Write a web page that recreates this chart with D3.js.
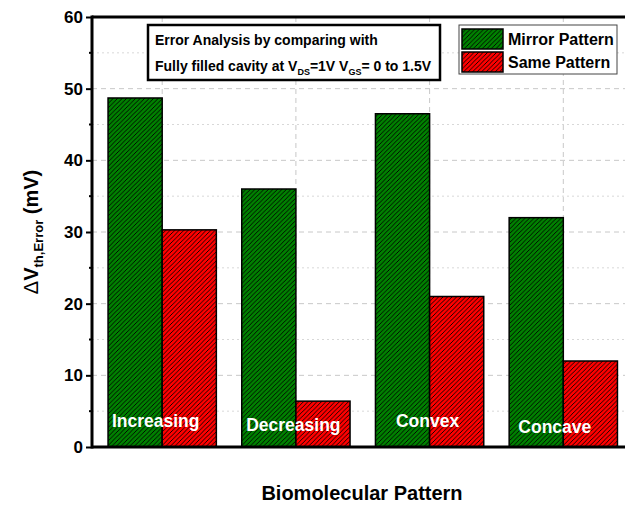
<!DOCTYPE html>
<html>
<head>
<meta charset="utf-8">
<script src="https://cdn.jsdelivr.net/npm/d3@7"></script>
<style>
  html, body { margin: 0; padding: 0; background: #fff; }
  svg { display: block; font-family: Arial, "Liberation Sans", sans-serif; }
</style>
</head>
<body>
<svg id="chart" width="625" height="505"></svg>
<script>
// Threshold-voltage error per biomolecular pattern (mV)
const categories = ["Increasing", "Decreasing", "Convex", "Concave"];
const seriesNames = ["Mirror Pattern", "Same Pattern"];
const mirrorValues = [48.7, 36.0, 46.5, 32.0];
const sameValues = [30.3, 6.4, 21.0, 12.0];
const yTicks = [0, 10, 20, 30, 40, 50, 60];
const yMinorTicks = [5, 15, 25, 35, 45, 55];
const seriesColors = ["#008000", "#ff0000"];
// small per-label nudges for the in-bar category names
const labelDx = [-6.5, -2.5, -2, -8.5];
const labelDy = [0, 4, 0, 6];

const svg = d3.select("#chart");
const margin = { left: 92, right: 633.5, top: 17, bottom: 447 };

const x = d3.scaleBand()
  .domain(categories)
  .range([margin.left, margin.right])
  .paddingInner(0.19)
  .paddingOuter(0.12);
const xSub = d3.scaleBand().domain(seriesNames).range([0, x.bandwidth()]);
const y = d3.scaleLinear().domain([0, 60]).range([margin.bottom, margin.top]);

// Hatch patterns for the bar fills
const defs = svg.append("defs");
seriesColors.forEach((c, i) => {
  const s = 4.5;
  const p = defs.append("pattern")
    .attr("id", "hatch" + i)
    .attr("patternUnits", "userSpaceOnUse")
    .attr("width", s).attr("height", s);
  p.append("rect").attr("width", s).attr("height", s).attr("fill", c);
  p.append("path")
    .attr("d", `M-1,1 l2,-2 M0,${s} l${s},-${s} M${s - 1},${s + 1} l2,-2`)
    .attr("stroke", "#000").attr("stroke-width", 0.9);
});

// Grid lines
const grid = svg.append("g");
grid.selectAll("line.maj").data(yTicks.filter(t => t > 0 && t < 60)).enter().append("line")
  .attr("x1", margin.left).attr("x2", margin.right)
  .attr("y1", d => y(d)).attr("y2", d => y(d))
  .attr("stroke", "#c8c8c8").attr("stroke-width", 1).attr("stroke-dasharray", "5,4");
grid.selectAll("line.min").data(yMinorTicks).enter().append("line")
  .attr("x1", margin.left).attr("x2", margin.right)
  .attr("y1", d => y(d)).attr("y2", d => y(d))
  .attr("stroke", "#d8d8d8").attr("stroke-width", 1).attr("stroke-dasharray", "2,3");
grid.selectAll("line.v").data(categories).enter().append("line")
  .attr("x1", d => x(d) + x.bandwidth() / 2).attr("x2", d => x(d) + x.bandwidth() / 2)
  .attr("y1", margin.top).attr("y2", margin.bottom)
  .attr("stroke", "#c8c8c8").attr("stroke-width", 1).attr("stroke-dasharray", "5,4");

// Bars
const rows = categories.map((c, i) => ({ cat: c, vals: [mirrorValues[i], sameValues[i]] }));
const groups = svg.append("g").selectAll("g").data(rows).enter().append("g")
  .attr("transform", d => `translate(${x(d.cat)},0)`);
groups.selectAll("rect").data(d => d.vals.map((v, i) => ({ v, i }))).enter().append("rect")
  .attr("x", d => xSub(seriesNames[d.i]))
  .attr("width", xSub.bandwidth())
  .attr("y", d => y(d.v))
  .attr("height", d => y(0) - y(d.v))
  .attr("fill", d => `url(#hatch${d.i})`)
  .attr("stroke", "#000").attr("stroke-width", 1.5);

// Category labels inside the bars
svg.append("g").selectAll("text").data(categories).enter().append("text")
  .attr("x", (d, i) => x(d) + x.bandwidth() / 2 + labelDx[i])
  .attr("y", (d, i) => 427 + labelDy[i])
  .attr("text-anchor", "middle")
  .attr("fill", "#fff").attr("font-weight", "bold").attr("font-size", 17.5)
  .text(d => d);

// Axes
const yAxis = d3.axisLeft(y).tickValues(yTicks).tickSize(6).tickPadding(3);
const yg = svg.append("g").attr("transform", `translate(${margin.left},0)`).call(yAxis);
yg.select(".domain").remove();
yg.selectAll(".tick line").attr("stroke", "#000").attr("stroke-width", 2);
yg.selectAll(".tick text").attr("font-size", 17).attr("font-weight", "bold").attr("fill", "#000")
  .attr("font-family", "Arial, 'Liberation Sans', sans-serif");
svg.append("g").selectAll("line").data(yMinorTicks).enter().append("line")
  .attr("x1", margin.left - 3).attr("x2", margin.left)
  .attr("y1", d => y(d)).attr("y2", d => y(d))
  .attr("stroke", "#000").attr("stroke-width", 2);

// Frame lines
svg.append("line").attr("x1", margin.left).attr("x2", margin.left)
  .attr("y1", margin.top - 1.5).attr("y2", margin.bottom + 1.5)
  .attr("stroke", "#000").attr("stroke-width", 3);
svg.append("line").attr("x1", margin.left).attr("x2", 640)
  .attr("y1", margin.bottom).attr("y2", margin.bottom)
  .attr("stroke", "#000").attr("stroke-width", 3);
svg.append("line").attr("x1", margin.left).attr("x2", 640)
  .attr("y1", margin.top).attr("y2", margin.top)
  .attr("stroke", "#000").attr("stroke-width", 3);

// Axis titles
const yTitle = svg.append("text")
  .attr("transform", "translate(38,232) rotate(-90)")
  .attr("text-anchor", "middle").attr("font-weight", "bold").attr("font-size", 20);
yTitle.append("tspan").attr("font-weight", "normal").text("\u0394");
yTitle.append("tspan").text("V");
yTitle.append("tspan").attr("font-size", 13).attr("dy", 5).text("th,Error");
yTitle.append("tspan").attr("dy", -5).text(" (mV)");

svg.append("text").attr("x", 362).attr("y", 500)
  .attr("text-anchor", "middle").attr("font-weight", "bold").attr("font-size", 20)
  .text("Biomolecular Pattern");

// Annotation box
svg.append("rect").attr("x", 148).attr("y", 25).attr("width", 292).attr("height", 55)
  .attr("fill", "#fff").attr("stroke", "#000").attr("stroke-width", 2.5);
svg.append("text").attr("x", 155).attr("y", 45)
  .attr("font-weight", "bold").attr("font-size", 14).text("Error Analysis by comparing with");
const l2 = svg.append("text").attr("x", 155).attr("y", 71).attr("font-weight", "bold").attr("font-size", 14);
l2.append("tspan").text("Fully filled cavity at V");
l2.append("tspan").attr("font-size", 9).attr("dy", 4).text("DS");
l2.append("tspan").attr("dy", -4).text("=1V V");
l2.append("tspan").attr("font-size", 9).attr("dy", 4).text("GS");
l2.append("tspan").attr("dy", -4).text("= 0 to 1.5V");

// Legend
const legend = svg.append("g");
legend.append("rect").attr("x", 459).attr("y", 25).attr("width", 158).attr("height", 49)
  .attr("fill", "#fff").attr("stroke", "#444").attr("stroke-width", 1);
seriesNames.forEach((name, i) => {
  legend.append("rect").attr("x", 462).attr("y", 29 + i * 23).attr("width", 41).attr("height", 20)
    .attr("fill", `url(#hatch${i})`).attr("stroke", "#000").attr("stroke-width", 1.5);
  legend.append("text").attr("x", 508).attr("y", 45 + i * 23)
    .attr("font-weight", "bold").attr("font-size", 16).text(name);
});
</script>
</body>
</html>
